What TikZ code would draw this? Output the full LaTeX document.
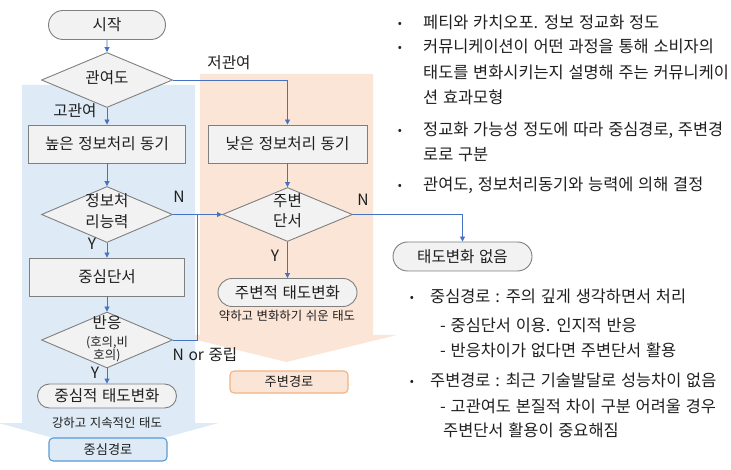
\documentclass[tikz,border=0pt]{standalone}
\usepackage{fontspec}
\setmainfont[WordSpace=1.3]{Noto Sans CJK KR}
\usetikzlibrary{shapes.geometric,shapes.misc,arrows.meta}
\definecolor{bgblue}{HTML}{DEEBF7}
\definecolor{bgorange}{HTML}{FBE5D6}
\definecolor{boxfill}{HTML}{F2F2F2}
\definecolor{boxline}{HTML}{7F7F7F}
\definecolor{connc}{HTML}{4472C4}
\definecolor{txtc}{HTML}{1F1F1F}
\definecolor{cpline}{HTML}{5B9BD5}
\definecolor{ppline}{HTML}{F4B183}
\newcommand{\fsz}[1]{\fontsize{#1}{#1}\selectfont}
\begin{document}
\begin{tikzpicture}[x=1pt,y=-1pt,
  every node/.style={text=txtc,inner sep=0pt},
  base/.style={draw=boxline,fill=boxfill,line width=0.9pt,font=\fsz{15.6}},
  proc/.style={base,rectangle,minimum width=#1,minimum height=38},
  term/.style={base,rounded rectangle,minimum width=#1},
  dia/.style={base,diamond,minimum width=131,minimum height=55},
  arr/.style={draw=connc,line width=0.9pt,-{Triangle[length=5pt,width=5pt]}},
  plain/.style={draw=connc,line width=0.9pt},
  lbl/.style={font=\fsz{15.6},text height=0.81em,text depth=0.06em},
  sml/.style={font=\fsz{12.4},text height=0.81em,text depth=0.06em},
  rt/.style={font=\fsz{16.4},text height=0.81em,text depth=0.06em,anchor=west},
  bul/.style={font=\fsz{12},anchor=center},
  path/.style={rectangle,rounded corners=4pt,line width=1.1pt,minimum width=118,minimum height=23,font=\fsz{13.2}}
]
\useasboundingbox (0,0) rectangle (731,470);
% background block arrows
\fill[bgorange] (200,74) -- (373,74) -- (373,335) -- (397,335) -- (286.5,362) -- (176,335) -- (200,335) -- cycle;
\fill[bgblue] (22,85) -- (195,85) -- (195,423) -- (218.5,423) -- (108.5,453) -- (-1.5,423) -- (22,423) -- cycle;

% flow nodes
\node[term=117,minimum height=29] (start) at (107,25) {시작};
\node[dia,label={[lbl]center:관여도}] (d1) at (107,80) {};
\node[proc=157] (hi) at (107,144) {높은 정보처리 동기};
\node[proc=159] (lo) at (287.5,144) {낮은 정보처리 동기};
\node[dia,minimum height=56,label={[lbl,yshift=12]center:정보처},label={[lbl,yshift=-9]center:리능력}] (d2) at (107,214.5) {};
\node[proc=155] (cen) at (107,277) {중심단서};
\node[dia,minimum height=56,label={[lbl,yshift=15]center:반응},label={[sml,yshift=-3]center:(호의,비},label={[sml,yshift=-16]center:호의)}] (d3) at (107,340) {};
\node[term=139,minimum height=24] (ca) at (107,396) {중심적 태도변화};
\node[dia,minimum width=130,minimum height=54,label={[lbl,yshift=12]center:주변},label={[lbl,yshift=-8]center:단서}] (d4) at (287.5,214.5) {};
\node[term=139,minimum height=28] (pa) at (287.5,292.5) {주변적 태도변화};
\node[term=139,minimum height=29] (nc) at (462.5,256.5) {태도변화 없음};

% path boxes
\node[path,draw=cpline,fill=bgblue] (cp) at (108,449.5) {중심경로};
\node[path,draw=ppline,fill=bgorange,minimum height=22] (pp) at (289,382) {주변경로};

% connector labels
\node[lbl] (lhi) at (75,113) {고관여};
\node[lbl] (llo) at (229,65) {저관여};
\node[lbl] (ln1) at (179,199) {N};
\node[lbl] (ly1) at (92,246) {Y};
\node[lbl] (ly2) at (95,375) {Y};
\node[lbl] (lnor) at (205,357) {N or 중립};
\node[lbl] (ln2) at (363,202) {N};
\node[lbl] (ly3) at (275,258) {Y};
\node[sml] (lstrong) at (107,424) {강하고 지속적인 태도};
\node[sml] (lweak) at (287,317) {약하고 변화하기 쉬운 태도};

% connectors
\coordinate (jn) at (197,214.5);
\draw[arr] (start) -- (d1);
\draw[arr] (d1.south) -- (d1.south |- hi.north);
\draw[arr] (d1.east) -| (lo.north);
\draw[arr] (hi) -- (d2);
\draw[arr] (lo) -- (d4);
\draw[arr] (d2) -- (cen);
\draw[arr] (cen) -- (d3);
\draw[arr] (d3) -- (ca);
\draw[arr] (d2.east) -- (d4.west);
\draw[plain] (d3.east) -| (jn);
\draw[arr] (d4.east) -| (nc.north);
\draw[arr] (d4) -- (pa);

% right text
\node[bul] (b1) at (400,25) {•};
\node[rt] (t1) at (423,25) {페티와 카치오포. 정보 정교화 정도};
\node[bul] (b2) at (400,49) {•};
\node[rt] (t2) at (423,49) {커뮤니케이션이 어떤 과정을 통해 소비자의};
\node[rt] (t3) at (423,75) {태도를 변화시키는지 설명해 주는 커뮤니케이};
\node[rt] (t4) at (423,100) {션 효과모형};
\node[bul] (b3) at (400,132) {•};
\node[rt] (t5) at (423,132) {정교화 가능성 정도에 따라 중심경로, 주변경};
\node[rt] (t6) at (423,157) {로로 구분};
\node[bul] (b4) at (400,187) {•};
\node[rt] (t7) at (423,187) {관여도, 정보처리동기와 능력에 의해 결정};

\node[bul] (b5) at (412,299) {•};
\node[rt] (u1) at (430,299) {중심경로 : 주의 깊게 생각하면서 처리};
\node[rt] (u2) at (440,328) {- 중심단서 이용. 인지적 반응};
\node[rt] (u3) at (440,353) {- 반응차이가 없다면 주변단서 활용};
\node[bul] (b6) at (412,383) {•};
\node[rt] (u4) at (430,383) {주변경로 : 최근 기술발달로 성능차이 없음};
\node[rt] (u5) at (440,409) {- 고관여도 본질적 차이 구분 어려울 경우};
\node[rt] (u6) at (443,433) {주변단서 활용이 중요해짐};
\end{tikzpicture}
\end{document}
